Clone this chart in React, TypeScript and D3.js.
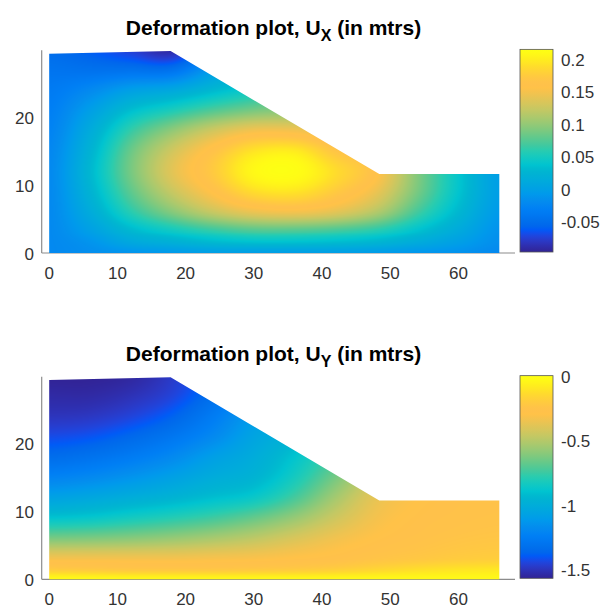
import React, { useMemo } from "react";
import * as d3 from "d3";

// Geometry of the slope section (m)
const boundaryX = [0, 66, 66, 48.4, 17.8, 0];
const boundaryY = [0, 0, 11.6, 11.6, 29.7, 29.3];

// Sampling grid of the displacement fields
const gridX = [0, 6, 12, 18, 24, 30, 36, 42, 48, 54, 60, 66];
const gridY = [0, 1.5, 3, 6, 9, 12, 15, 18, 21, 24, 27, 30];

// Ux (m), one row per gridY value
const uxRows = [
  [-0.02, -0.015, -0.01, -0.005, 0.0, 0.0, 0.0, 0.0, -0.003, -0.008, -0.012, -0.02],
  [-0.02, -0.01, 0.01, 0.02, 0.03, 0.035, 0.035, 0.032, 0.026, 0.014, 0.0, -0.015],
  [-0.02, 0.0, 0.028, 0.045, 0.06, 0.07, 0.07, 0.065, 0.055, 0.035, 0.012, -0.012],
  [-0.02, 0.015, 0.06, 0.095, 0.125, 0.145, 0.15, 0.14, 0.115, 0.07, 0.03, -0.005],
  [-0.02, 0.025, 0.08, 0.125, 0.16, 0.19, 0.195, 0.175, 0.145, 0.09, 0.04, 0.0],
  [-0.02, 0.03, 0.09, 0.14, 0.175, 0.21, 0.215, 0.19, 0.16, 0.095, 0.042, 0.0],
  [-0.022, 0.025, 0.085, 0.13, 0.165, 0.195, 0.2, 0.17, 0.15, 0.095, 0.042, 0.0],
  [-0.026, 0.015, 0.065, 0.1, 0.13, 0.15, 0.15, 0.14, 0.14, 0.095, 0.042, 0.0],
  [-0.03, 0.0, 0.035, 0.055, 0.075, 0.09, 0.1, 0.12, 0.13, 0.095, 0.042, 0.0],
  [-0.035, -0.02, 0.0, 0.01, 0.03, 0.05, 0.08, 0.1, 0.12, 0.095, 0.042, 0.0],
  [-0.042, -0.045, -0.045, -0.045, -0.005, 0.03, 0.06, 0.09, 0.11, 0.095, 0.042, 0.0],
  [-0.05, -0.06, -0.075, -0.09, -0.04, 0.0, 0.04, 0.08, 0.1, 0.095, 0.042, 0.0],
];

// Uy (m), one row per gridY value
const uyRows = [
  [-0.01, -0.015, -0.02, -0.02, -0.02, -0.02, -0.02, -0.02, -0.02, -0.02, -0.02, -0.02],
  [-0.2, -0.21, -0.22, -0.22, -0.22, -0.21, -0.2, -0.18, -0.15, -0.12, -0.1, -0.09],
  [-0.32, -0.32, -0.32, -0.32, -0.31, -0.3, -0.28, -0.26, -0.23, -0.21, -0.19, -0.18],
  [-0.62, -0.61, -0.59, -0.56, -0.52, -0.47, -0.4, -0.33, -0.28, -0.25, -0.23, -0.22],
  [-0.88, -0.86, -0.82, -0.78, -0.73, -0.66, -0.56, -0.43, -0.32, -0.27, -0.25, -0.24],
  [-1.06, -1.03, -0.99, -0.95, -0.9, -0.85, -0.72, -0.53, -0.36, -0.29, -0.26, -0.25],
  [-1.21, -1.18, -1.13, -1.07, -1.0, -0.95, -0.82, -0.63, -0.43, -0.31, -0.27, -0.26],
  [-1.33, -1.3, -1.25, -1.18, -1.08, -1.0, -0.88, -0.72, -0.52, -0.33, -0.28, -0.27],
  [-1.42, -1.4, -1.35, -1.28, -1.18, -1.05, -0.95, -0.8, -0.62, -0.35, -0.29, -0.28],
  [-1.49, -1.48, -1.44, -1.37, -1.25, -1.1, -1.0, -0.88, -0.7, -0.38, -0.3, -0.29],
  [-1.53, -1.53, -1.5, -1.44, -1.32, -1.15, -1.05, -0.95, -0.8, -0.4, -0.31, -0.3],
  [-1.56, -1.56, -1.54, -1.47, -1.36, -1.2, -1.1, -1.0, -0.9, -0.42, -0.32, -0.31],
];

const xTicks = [0, 10, 20, 30, 40, 50, 60];
const yTicks = [0, 10, 20];
const uxBarTicks = [-0.05, 0, 0.05, 0.1, 0.15, 0.2];
const uyBarTicks = [-1.5, -1, -0.5, 0];
const uxLimits = [-0.095, 0.217];
const uyLimits = [-1.56, 0.012];

// parula colormap (64 entries)
const PARULA = [
  [0.2081, 0.1663, 0.5292], [0.2116, 0.1898, 0.5777], [0.2123, 0.2138, 0.627], [0.2081, 0.2386, 0.6771],
  [0.1959, 0.2645, 0.7279], [0.1707, 0.2919, 0.7792], [0.1253, 0.3242, 0.8303], [0.0591, 0.3598, 0.8683],
  [0.0117, 0.3875, 0.882], [0.006, 0.4086, 0.8828], [0.0165, 0.4266, 0.8786], [0.0329, 0.443, 0.872],
  [0.0498, 0.4586, 0.8641], [0.0629, 0.4737, 0.8554], [0.0723, 0.4887, 0.8467], [0.0779, 0.504, 0.8384],
  [0.0793, 0.52, 0.8312], [0.0749, 0.5375, 0.8263], [0.0641, 0.557, 0.824], [0.0488, 0.5772, 0.8228],
  [0.0343, 0.5966, 0.8199], [0.0265, 0.6137, 0.8135], [0.0239, 0.6287, 0.8038], [0.0231, 0.6418, 0.7913],
  [0.0228, 0.6535, 0.7768], [0.0267, 0.6642, 0.7607], [0.0384, 0.6743, 0.7436], [0.059, 0.6838, 0.7254],
  [0.0843, 0.6928, 0.7062], [0.1133, 0.7015, 0.6859], [0.1453, 0.7098, 0.6646], [0.1801, 0.7177, 0.6424],
  [0.2178, 0.725, 0.6193], [0.2586, 0.7317, 0.5954], [0.3022, 0.7376, 0.5712], [0.3482, 0.7424, 0.5473],
  [0.3953, 0.7459, 0.5244], [0.442, 0.7481, 0.5033], [0.4871, 0.7491, 0.484], [0.53, 0.7491, 0.4661],
  [0.5709, 0.7485, 0.4494], [0.6099, 0.7473, 0.4337], [0.6473, 0.7456, 0.4188], [0.6834, 0.7435, 0.4044],
  [0.7184, 0.7411, 0.3905], [0.7525, 0.7384, 0.3768], [0.7858, 0.7356, 0.3633], [0.8185, 0.7327, 0.3498],
  [0.8507, 0.7299, 0.336], [0.8824, 0.7274, 0.3217], [0.9139, 0.7258, 0.3063], [0.945, 0.7261, 0.2886],
  [0.9739, 0.7314, 0.2666], [0.9938, 0.7455, 0.2403], [0.999, 0.7653, 0.2164], [0.9955, 0.7861, 0.1967],
  [0.988, 0.8066, 0.1794], [0.9789, 0.8271, 0.1633], [0.9697, 0.8481, 0.1475], [0.9626, 0.8705, 0.1309],
  [0.9589, 0.8949, 0.1132], [0.9598, 0.9218, 0.0948], [0.9661, 0.9514, 0.0755], [0.9763, 0.9831, 0.0538],
];

// slightly more vivid rendering of the colormap, as in the reference image
function vivid(r: number, g: number, b: number): [number, number, number] {
  const h = d3.hsl(d3.rgb(r * 255, g * 255, b * 255));
  h.s = Math.min(1, h.s * 1.18);
  h.l = Math.min(0.95, h.l * 1.04);
  const c = d3.rgb(h);
  return [Math.round(c.r), Math.round(c.g), Math.round(c.b)];
}
const PAL = PARULA.map((c) => vivid(c[0], c[1], c[2]));

function parulaRGB(t: number): [number, number, number] {
  const c = Math.max(0, Math.min(1, t)) * (PAL.length - 1);
  const i = Math.min(PAL.length - 2, Math.floor(c));
  const f = c - i;
  const a = PAL[i], b = PAL[i + 1];
  return [
    Math.round(a[0] + (b[0] - a[0]) * f),
    Math.round(a[1] + (b[1] - a[1]) * f),
    Math.round(a[2] + (b[2] - a[2]) * f),
  ];
}

const clampI = (v: number, lo: number, hi: number) => Math.max(lo, Math.min(hi, v));
function cr(p0: number, p1: number, p2: number, p3: number, t: number) {
  return 0.5 * (2 * p1 + (-p0 + p2) * t + (2 * p0 - 5 * p1 + 4 * p2 - p3) * t * t + (-p0 + 3 * p1 - 3 * p2 + p3) * t * t * t);
}
function locate(grid: number[], v: number): [number, number] {
  const n = grid.length;
  let i = d3.bisectRight(grid, v) - 1;
  i = clampI(i, 0, n - 2);
  const t = clampI((v - grid[i]) / (grid[i + 1] - grid[i]), 0, 1);
  return [i, t];
}
function sampleField(rows: number[][], x: number, y: number) {
  const nx = gridX.length, ny = gridY.length;
  const [ix, tx] = locate(gridX, x);
  const [iy, ty] = locate(gridY, y);
  const g = (i: number, j: number) => rows[clampI(j, 0, ny - 1)][clampI(i, 0, nx - 1)];
  const col: number[] = [];
  for (let m = -1; m <= 2; m++) col.push(cr(g(ix - 1, iy + m), g(ix, iy + m), g(ix + 1, iy + m), g(ix + 2, iy + m), tx));
  return cr(col[0], col[1], col[2], col[3], ty);
}

const FONT = "'Liberation Sans', Arial, Helvetica, sans-serif";
const AX_LEFT = 41.7, AX_RIGHT = 515;
const CB_X = 520, CB_W = 33;

type PanelProps = {
  id: string; y0: number; rows: number[][]; limits: number[]; barTicks: number[]; sub: string;
};

function Panel({ id, y0, rows, limits, barTicks, sub }: PanelProps) {
  const x = d3.scaleLinear().domain([-1.1, 68.3]).range([AX_LEFT, AX_RIGHT]);
  const yTop = y0 - 29.8 * 6.8;
  const y = d3.scaleLinear().domain([0, 29.8]).range([y0, yTop]);
  const cb = d3.scaleLinear().domain(limits).range([y0 - 1, yTop - 1]);

  const pts: [number, number][] = boundaryX.map((bx, i) => [bx, boundaryY[i]]);
  const path = d3.line<[number, number]>().x((d) => x(d[0])).y((d) => y(d[1])).curve(d3.curveLinearClosed)(pts) || "";

  const xmin = d3.min(boundaryX)!, xmax = d3.max(boundaryX)!, ymax = d3.max(boundaryY)!;
  const px0 = Math.floor(x(xmin)) - 1, px1 = Math.ceil(x(xmax)) + 1;
  const py0 = Math.floor(y(ymax)) - 1, py1 = Math.ceil(y(0)) + 1;

  const url = useMemo(() => {
    const W = px1 - px0, H = py1 - py0;
    const canvas = document.createElement("canvas");
    canvas.width = W; canvas.height = H;
    const ctx = canvas.getContext("2d")!;
    const img = ctx.createImageData(W, H);
    const [lo, hi] = limits;
    for (let j = 0; j < H; j++) {
      const dy = y.invert(py0 + j + 0.5);
      for (let i = 0; i < W; i++) {
        const dx = x.invert(px0 + i + 0.5);
        const v = sampleField(rows, dx, dy);
        const [r, g, b] = parulaRGB((v - lo) / (hi - lo));
        const k = (j * W + i) * 4;
        img.data[k] = r; img.data[k + 1] = g; img.data[k + 2] = b; img.data[k + 3] = 255;
      }
    }
    ctx.putImageData(img, 0, 0);
    return canvas.toDataURL();
  }, [rows, limits, y0]);

  const stops = PAL.map((c, i) => ({ off: i / (PAL.length - 1), col: `rgb(${c[0]},${c[1]},${c[2]})` }));

  return (
    <g>
      <defs>
        <clipPath id={`clip-${id}`}><path d={path} /></clipPath>
        <linearGradient id={`grad-${id}`} x1="0" y1="1" x2="0" y2="0">
          {stops.map((s, i) => <stop key={i} offset={s.off} stopColor={s.col} />)}
        </linearGradient>
      </defs>
      <text x={273.5} y={y0 - 218} textAnchor="middle" fontFamily={FONT} fontWeight="bold" fontSize={21} fill="#000">
        Deformation plot, U<tspan dy={6} fontSize={16}>{sub}</tspan><tspan dy={-6}> (in mtrs)</tspan>
      </text>
      <line x1={AX_LEFT} x2={AX_LEFT} y1={y0} y2={yTop} stroke="#8c8c8c" strokeWidth={1.2} />
      <line x1={AX_LEFT} x2={AX_RIGHT} y1={y0} y2={y0} stroke="#8c8c8c" strokeWidth={1.2} />
      <image href={url} x={px0} y={py0} width={px1 - px0} height={py1 - py0} preserveAspectRatio="none" clipPath={`url(#clip-${id})`} />
      {xTicks.map((t) => (
        <text key={t} x={x(t)} y={y0 + 20} textAnchor="middle" dominantBaseline="central" fontFamily={FONT} fontSize={17} fill="#333">{t}</text>
      ))}
      {yTicks.map((t) => (
        <text key={t} x={34} y={y(t) + 1} textAnchor="end" dominantBaseline="central" fontFamily={FONT} fontSize={17} fill="#333">{t}</text>
      ))}
      <rect x={CB_X} y={yTop - 1} width={CB_W} height={y0 - yTop} fill={`url(#grad-${id})`} stroke="#555" strokeWidth={0.8} />
      {barTicks.map((t) => (
        <text key={t} x={561} y={cb(t)} dominantBaseline="central" fontFamily={FONT} fontSize={17} fill="#333">{String(t)}</text>
      ))}
    </g>
  );
}

export default function App() {
  return (
    <svg width={604} height={608} style={{ position: "absolute", left: 0, top: 0, background: "#fff" }}>
      <rect width={604} height={608} fill="#fff" />
      <Panel id="ux" y0={253} rows={uxRows} limits={uxLimits} barTicks={uxBarTicks} sub="X" />
      <Panel id="uy" y0={579.3} rows={uyRows} limits={uyLimits} barTicks={uyBarTicks} sub="Y" />
    </svg>
  );
}
